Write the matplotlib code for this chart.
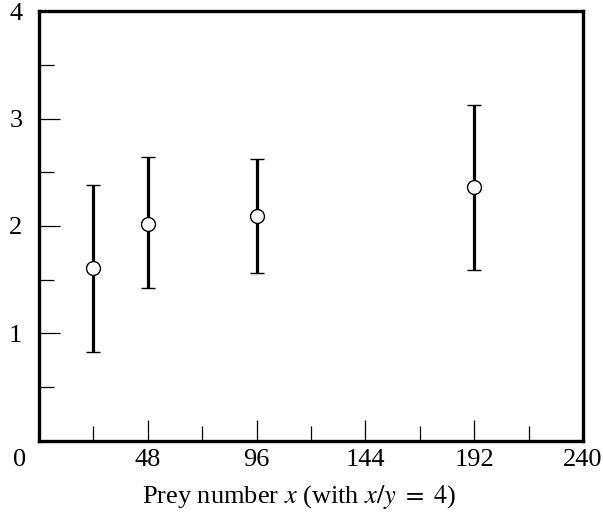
import numpy as np
import matplotlib
matplotlib.use('Agg')
import matplotlib.pyplot as plt
import matplotlib.transforms as mtransforms

plt.rcParams['font.family'] = ['Liberation Serif', 'DejaVu Serif']
plt.rcParams['mathtext.fontset'] = 'stix'

# data
prey = [24, 48, 96, 192]
mean = [1.61, 2.02, 2.09, 2.36]
low = [0.83, 1.42, 1.56, 1.59]
high = [2.38, 2.64, 2.62, 3.13]

xticks = [0, 48, 96, 144, 192, 240]
yticks = [1, 2, 3, 4]

fig = plt.figure(figsize=(6.03, 5.12), dpi=100)
ax = fig.add_axes([0.0647, 0.1387, 0.9023, 0.8398])

mean = np.array(mean)
yerr = [mean - np.array(low), np.array(high) - mean]
ax.errorbar(prey, mean, yerr=yerr, fmt='o', color='black', ecolor='black',
            elinewidth=2.3, capsize=5, capthick=2.6,
            markerfacecolor='white', markeredgecolor='black',
            markeredgewidth=1.0, markersize=10, zorder=3)

ax.set_xlim(0, 240)
ax.set_ylim(0, 4)
ax.set_xticks(xticks)
ax.set_xticklabels([str(t) for t in xticks])
ax.set_xticks(np.arange(24, 240, 48), minor=True)
ax.set_yticks(yticks)
ax.set_yticklabels([str(t) for t in yticks])
ax.set_yticks(np.arange(0.5, 4, 1.0), minor=True)

ax.tick_params(which='both', direction='in', width=0.9, labelsize=19,
               top=False, right=False)
ax.tick_params(which='major', length=15)
ax.tick_params(which='minor', length=11)
ax.tick_params(axis='x', pad=6)
ax.tick_params(axis='y', pad=12)

# origin label sits left of the corner
lab0 = ax.get_xticklabels()[0]
lab0.set_transform(lab0.get_transform() +
                   mtransforms.ScaledTranslation(-0.19, 0, fig.dpi_scale_trans))

for s in ax.spines.values():
    s.set_linewidth(2.4)

ax.set_xlabel('Prey number $x$ (with $x/y\\ =\\ 4$)', fontsize=19)
ax.xaxis.set_label_coords(0.478, -0.098)

fig.savefig('out.png', dpi=100)
